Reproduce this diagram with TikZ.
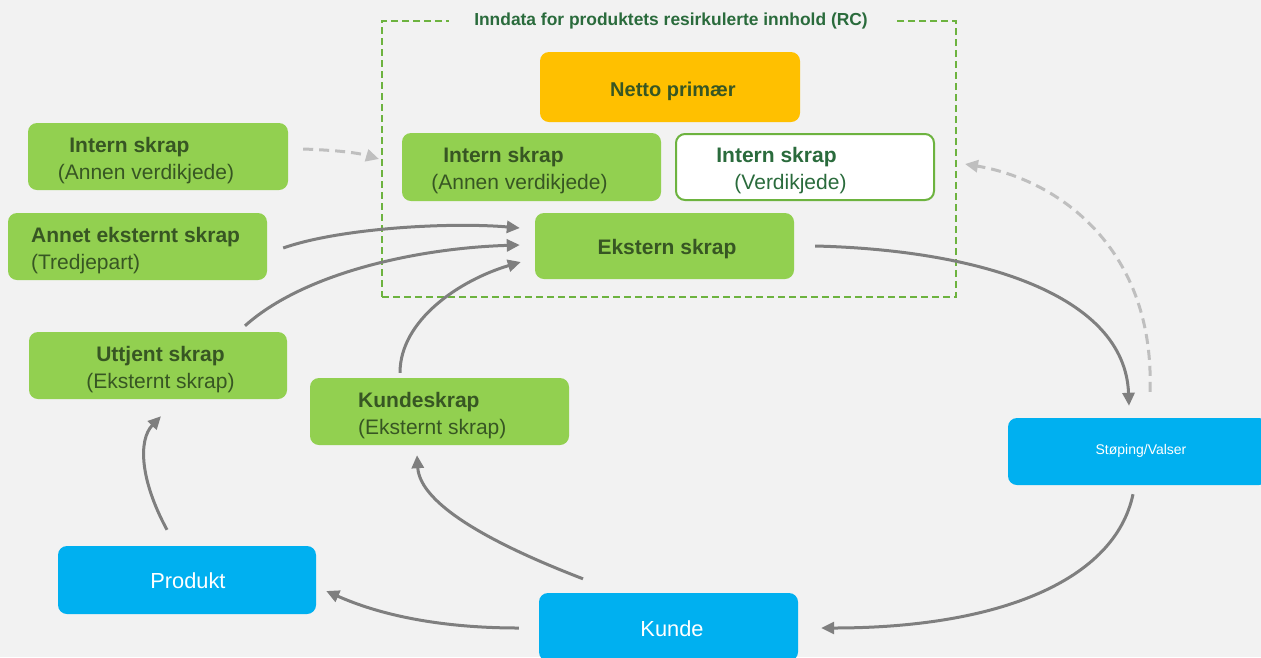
\documentclass[tikz,border=0pt]{standalone}
\usepackage{fontspec}
\setmainfont{Liberation Sans}
\usetikzlibrary{arrows.meta,calc}
\definecolor{bgcol}{HTML}{F2F2F2}
\definecolor{gfill}{HTML}{92D050}
\definecolor{gtext}{HTML}{375623}
\definecolor{ttext}{HTML}{2A6B3C}
\definecolor{gline}{HTML}{6DB33F}
\definecolor{ofill}{HTML}{FFC000}
\definecolor{bfill}{HTML}{00B0F0}
\definecolor{agray}{HTML}{7F7F7F}
\definecolor{lgray}{HTML}{BFBFBF}
\tikzset{
  gbox/.style={rectangle, rounded corners=9pt, fill=gfill, minimum width=259pt, minimum height=67pt, inner sep=0pt},
  wbox/.style={rectangle, rounded corners=9pt, fill=white, draw=gline, line width=2pt, minimum width=258pt, minimum height=66pt, inner sep=0pt},
  obox/.style={rectangle, rounded corners=9pt, fill=ofill, minimum width=260pt, minimum height=70pt, inner sep=0pt},
  bluebox/.style={rectangle, rounded corners=9pt, fill=bfill, minimum width=259pt, minimum height=68pt, inner sep=0pt},
  tb/.style={inner sep=0pt, anchor=base, text=gtext, font=\fontsize{21}{25}\selectfont\bfseries},
  tn/.style={inner sep=0pt, anchor=base, text=gtext, font=\fontsize{21}{25}\selectfont},
  tw/.style={inner sep=0pt, anchor=base, text=white, font=\fontsize{21.8}{26}\selectfont},
  conn/.style={draw=agray, line width=3pt, -{Triangle[length=13pt,width=12pt]}},
  dconn/.style={draw=lgray, line width=3pt, dash pattern=on 10pt off 6pt, -{Triangle[length=13pt,width=12pt]}},
}
\begin{document}
\begin{tikzpicture}[x=1pt,y=-1pt]
\fill[bgcol] (0,0) rectangle (1261,657);
\useasboundingbox (0,0) rectangle (1261,657);

% dashed RC box
\node[draw=gline, line width=2pt, dash pattern=on 7pt off 4pt, minimum width=574pt, minimum height=276pt, inner sep=0pt] (rcbox) at (669,159) {};
\node[fill=bgcol, inner xsep=25pt, inner ysep=3pt, text=ttext, font=\fontsize{17.4}{20}\selectfont\bfseries] (title) at (671,21) {Inndata for produktets resirkulerte innhold (RC)};

% boxes
\node[obox] (netto) at (670,87) {};
\node[gbox, minimum height=68pt] (inA) at (531.5,167) {};
\node[wbox] (inV) at (805,167) {};
\node[gbox, minimum height=66pt] (ekstern) at (664.5,246) {};
\node[gbox, minimum width=260pt] (leftA) at (158,156.5) {};
\node[gbox] (annet) at (137.5,246.5) {};
\node[gbox, minimum width=258pt] (uttjent) at (158,365.5) {};
\node[gbox] (kundeskrap) at (439.5,411.5) {};
\node[bluebox, minimum width=260pt, minimum height=67pt] (stoping) at (1138,451.5) {};
\node[bluebox, minimum width=258pt] (produkt) at (187,580) {};
\node[bluebox] (kunde) at (668.5,627) {};

% texts
\node[tb, font=\fontsize{20}{24}\selectfont\bfseries] (t-netto) at (673,96) {Netto primær};
\node[tb] (t-inA1) at (503.5,162) {Intern skrap};
\node[tn] (t-inA2) at (519.5,189) {(Annen verdikjede)};
\node[tb, text=ttext] (t-inV1) at (776.5,162) {Intern skrap};
\node[tn, text=ttext] (t-inV2) at (790.5,189) {(Verdikjede)};
\node[tb] (t-ek) at (667,254) {Ekstern skrap};
\node[tb] (t-lA1) at (129.5,152) {Intern skrap};
\node[tn] (t-lA2) at (146,179) {(Annen verdikjede)};
\node[tb, anchor=base west] (t-an1) at (31,242) {Annet eksternt skrap};
\node[tn, anchor=base west] (t-an2) at (31,269) {(Tredjepart)};
\node[tb] (t-ut1) at (160.5,361) {Uttjent skrap};
\node[tn] (t-ut2) at (160.5,388) {(Eksternt skrap)};
\node[tb, anchor=base west] (t-ku1) at (358,407) {Kundeskrap};
\node[tn, anchor=base west] (t-ku2) at (358,434) {(Eksternt skrap)};
\node[tw, font=\fontsize{14}{17}\selectfont] (t-st) at (1141,454) {Støping/Valser};
\node[tw] (t-pr) at (188,588) {Produkt};
\node[tw] (t-kd) at (672,636) {Kunde};

% connectors
\draw[dconn] ($(leftA.east)+(15,-7.5)$) .. controls (330,150) and (355,152) .. ($(rcbox.west)+(-2,0)$);
\draw[conn] ($(annet.east)+(16,1.5)$) .. controls (340,228) and (450,222) .. ($(ekstern.west)+(-15,-18)$);
\draw[conn] ($(uttjent.north)+(87,-6)$) .. controls (305,272) and (420,248) .. ($(ekstern.west)+(-15,-1)$);
\draw[conn] ($(kundeskrap.north)+(-39.5,-5)$) .. controls (400,320) and (460,280) .. ($(ekstern.west)+(-14,16)$);
\draw[conn] ($(ekstern.east)+(21,0)$) .. controls (980,250) and (1125,295) .. ($(stoping.north)+(-9,-12)$);
\draw[dconn] ($(stoping.north)+(12,-26)$) .. controls (1155,250) and (1060,180) .. ($(inV.east)+(30,-3)$);
\draw[conn] ($(stoping.south)+(-5,9)$) .. controls (1115,580) and (1000,628) .. ($(kunde.east)+(23,1)$);
\draw[conn] ($(kunde.west)+(-20,1)$) .. controls (440,628) and (380,615) .. ($(produkt.east)+(10,11)$);
\draw[conn] ($(kunde.north)+(-85.5,-14)$) .. controls (495,545) and (420,505) .. ($(kundeskrap.south)+(-22.5,10)$);
\draw[conn] ($(produkt.north)+(-20,-16)$) .. controls (140,480) and (138,440) .. ($(uttjent.south)+(3,17)$);
\end{tikzpicture}
\end{document}
